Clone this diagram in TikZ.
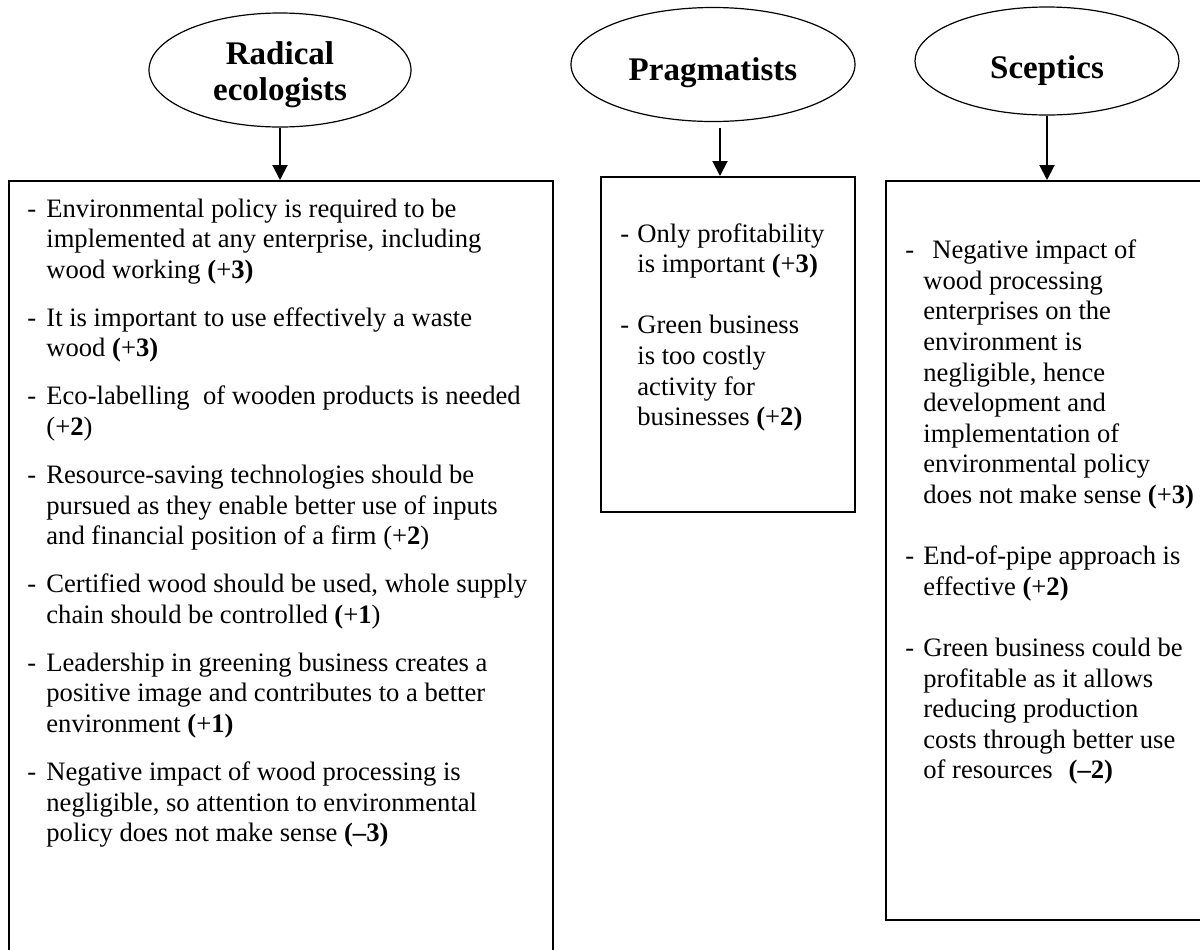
\documentclass[tikz,border=0pt]{standalone}
\usepackage{fontspec}
\setmainfont{Liberation Serif}
\usetikzlibrary{shapes.geometric,arrows.meta}

\tikzset{
  group/.style={ellipse, draw, line width=0.6pt, inner sep=0pt,
    font=\fontsize{16.5}{18}\selectfont\bfseries},
  listbox/.style={draw, line width=1pt, anchor=north west, inner sep=0pt},
  itemtext/.style={anchor=base west, inner sep=0pt,
    font=\fontsize{13.3}{15.3}\selectfont},
  link/.style={line width=1pt, -{Triangle[length=7.5pt,width=7.5pt]}},
}

\begin{document}
\begin{tikzpicture}[x=0.5pt, y=-0.5pt]
\useasboundingbox (0,0) rectangle (1200,949);

% the three groups
\node[group, minimum width=131pt, minimum height=57pt] (rad) at (280,70)
  {\raisebox{-2.4pt}[\height][\depth]{\begin{tabular}{@{}c@{}}Radical\\ecologists\end{tabular}}};
\node[group, minimum width=142pt, minimum height=57pt] (prag) at (713,64.5)
  {\raisebox{-4pt}[\height][\depth]{Pragmatists}};
\node[group, minimum width=132pt, minimum height=54pt] (scep) at (1047,61)
  {\raisebox{-4.7pt}[\height][\depth]{Sceptics}};

% statement boxes
\node[listbox, minimum width=272pt, minimum height=390pt] (rbox) at (8,180) {};
\node[listbox, minimum width=127pt, minimum height=167.5pt] (pbox) at (600,176) {};
\node[listbox, minimum width=170pt, minimum height=369.5pt] (sbox) at (885,180) {};

% arrows from groups to boxes
\draw[link] (rad.south) -- (rad.south |- rbox.north);
\coordinate (pstart) at (720,128);
\draw[link] (pstart) -- (pstart |- pbox.north);
\draw[link] (scep.south) -- (scep.south |- sbox.north);

% statements: radical ecologists
\node[itemtext] (rtext) at (27,217) {\begin{tabular}[t]{@{}p{9.5pt}@{}l@{}}
- & Environmental policy is required to be\\
  & implemented at any enterprise, including\\
  & wood working \textbf{(}+\textbf{3)}\\[8.7pt]
- & It is important to use effectively a waste\\
  & wood \textbf{(}+\textbf{3)}\\[8.7pt]
- & Eco-labelling\ \ of wooden products is needed\\
  & (+\textbf{2})\\[8.7pt]
- & Resource-saving technologies should be\\
  & pursued as they enable better use of inputs\\
  & and financial position of a firm (+\textbf{2})\\[8.7pt]
- & Certified wood should be used, whole supply\\
  & chain should be controlled \textbf{(}+\textbf{1})\\[8.7pt]
- & Leadership in greening business creates a\\
  & positive image and contributes to a better\\
  & environment \textbf{(}+\textbf{1)}\\[8.7pt]
- & Negative impact of wood processing is\\
  & negligible, so attention to environmental\\
  & policy does not make sense \textbf{(--3)}
\end{tabular}};

% statements: pragmatists
\node[itemtext] (ptext) at (620,242) {\begin{tabular}[t]{@{}p{8.5pt}@{}l@{}}
- & Only profitability\\
  & is important \textbf{(}+\textbf{3)}\\[15.3pt]
- & Green business\\
  & is too costly\\
  & activity for\\
  & businesses \textbf{(}+\textbf{2)}
\end{tabular}};

% statements: sceptics
\node[itemtext] (stext) at (905,258.6) {\begin{tabular}[t]{@{}p{9pt}@{}l@{}}
- & \hspace{4.5pt}Negative impact of\\
  & wood processing\\
  & enterprises on the\\
  & environment is\\
  & negligible, hence\\
  & development and\\
  & implementation of\\
  & environmental policy\\
  & does not make sense \textbf{(}+\textbf{3)}\\[15.3pt]
- & End-of-pipe approach is\\
  & effective \textbf{(}+\textbf{2)}\\[15.3pt]
- & Green business could be\\
  & profitable as it allows\\
  & reducing production\\
  & costs through better use\\
  & of resources\hspace{8pt}\textbf{(--2)}
\end{tabular}};
\end{tikzpicture}
\end{document}
